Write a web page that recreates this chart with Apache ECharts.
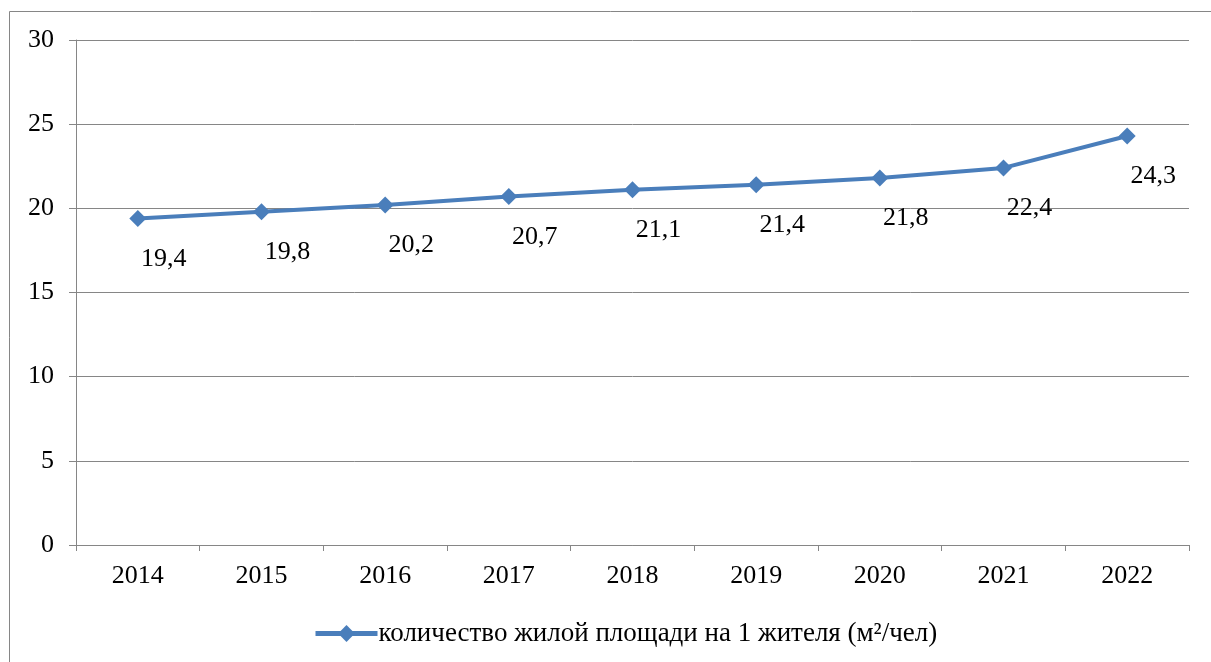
<!DOCTYPE html>
<html><head><meta charset="utf-8">
<script src="https://cdn.jsdelivr.net/npm/echarts@6/dist/echarts.min.js"></script>
<style>html,body{margin:0;padding:0;background:#fff;}#c{width:1211px;height:662px;}</style>
</head><body><div id="c"></div>
<script>
const categories = ['2014','2015','2016','2017','2018','2019','2020','2021','2022'];
const values = [19.4, 19.8, 20.2, 20.7, 21.1, 21.4, 21.8, 22.4, 24.3];
const seriesName = 'количество жилой площади на 1 жителя (м²/чел)';
const yTicks = {min: 0, max: 30, interval: 5};

const font = 'Liberation Serif, Times New Roman, serif';
const gray = '#868686';
const blue = '#4a7ebb';
const chart = echarts.init(document.getElementById('c'), null, {renderer: 'canvas'});
chart.setOption({
  animation: false,
  backgroundColor: '#fff',
  graphic: [{type: 'rect', shape: {x: 9.5, y: 11.5, width: 1400, height: 900}, style: {fill: 'none', stroke: gray, lineWidth: 1}, silent: true}],
  grid: {left: 76, right: 22, top: 40, bottom: 117, containLabel: false},
  legend: {
    bottom: 10, left: 308, itemWidth: 62, itemHeight: 21, itemGap: 0,
    lineStyle: {width: 5, color: blue},
    textStyle: {fontFamily: font, fontSize: 27, color: '#000', padding: [0,0,0,-4]},
    data: [seriesName]
  },
  xAxis: {
    type: 'category', data: categories, boundaryGap: true,
    axisLine: {lineStyle: {color: gray, width: 1}},
    axisTick: {show: true, length: 6, lineStyle: {color: gray}},
    axisLabel: {fontFamily: font, fontSize: 26, color: '#000', margin: 18}
  },
  yAxis: {
    type: 'value', min: yTicks.min, max: yTicks.max, interval: yTicks.interval,
    axisLine: {show: true, lineStyle: {color: gray, width: 1}},
    axisTick: {show: true, length: 7, lineStyle: {color: gray}},
    axisLabel: {fontFamily: font, fontSize: 26, color: '#000', margin: 22},
    splitLine: {lineStyle: {color: gray, width: 1}}
  },
  series: [{
    name: seriesName, type: 'line', data: values,
    symbol: 'diamond', symbolSize: 17,
    lineStyle: {color: blue, width: 4},
    itemStyle: {color: blue},
    label: {
      show: true, position: 'bottom', offset: [26, 14],
      fontFamily: font, fontSize: 26, color: '#000',
      formatter: p => String(p.value).replace('.', ',')
    }
  }]
});
</script></body></html>
